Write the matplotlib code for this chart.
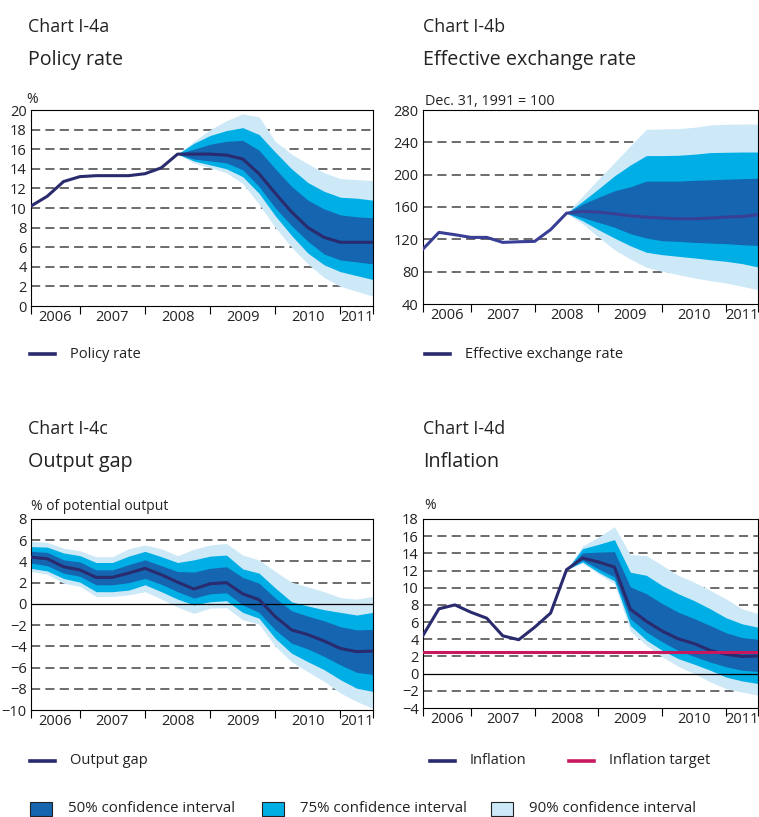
import numpy as np
import matplotlib
matplotlib.use("Agg")
import matplotlib.pyplot as plt
from matplotlib.lines import Line2D
from matplotlib.patches import Rectangle

plt.rcParams['font.family'] = ['Open Sans', 'DejaVu Sans']

W, H = 759, 817

# quarterly observations, 2006 Q2 to 2011 Q3 (x in fractional years)
quarters = 2006.25 + 0.25 * np.arange(22)
year_ticks = [2006.25, 2007, 2008, 2009, 2010, 2011, 2011.5]
year_labels = ['2006', '2007', '2008', '2009', '2010', '2011']
year_label_pos = [2006.625, 2007.5, 2008.5, 2009.5, 2010.5, 2011.25]

# --- Chart I-4a: policy rate (fan from index 9) ---
policy_rate = [10.2, 11.2, 12.7, 13.2, 13.3, 13.3, 13.3, 13.5, 14.1, 15.5, 15.5,
               15.5, 15.4, 15.0, 13.5, 11.5, 9.6, 8.0, 7.0, 6.5, 6.5, 6.5]
policy_90_hi = [15.5, 16.8, 18.0, 18.9, 19.6, 19.3, 16.8, 15.5, 14.5, 13.6, 13.0, 12.9, 12.8]
policy_75_hi = [15.5, 16.6, 17.4, 17.9, 18.2, 17.5, 15.7, 14.0, 12.6, 11.7, 11.1, 11.0, 10.8]
policy_50_hi = [15.5, 16.0, 16.5, 16.8, 16.9, 15.9, 14.0, 12.2, 10.8, 9.9, 9.3, 9.1, 9.0]
policy_50_lo = [15.5, 15.0, 14.8, 14.6, 13.9, 12.2, 10.0, 8.2, 6.6, 5.3, 4.7, 4.5, 4.3]
policy_75_lo = [15.5, 14.8, 14.4, 14.0, 13.2, 11.5, 9.2, 7.2, 5.4, 4.2, 3.5, 3.1, 2.7]
policy_90_lo = [15.5, 14.6, 14.1, 13.6, 12.5, 10.4, 8.0, 6.0, 4.3, 2.9, 2.0, 1.5, 1.0]

# --- Chart I-4b: effective exchange rate (fan from index 9) ---
exchange_rate = [108, 128.6, 125.7, 122.4, 122.4, 116.2, 117, 117.5, 132, 152.4, 154.5,
                 153.7, 151.6, 149, 147.5, 146.3, 145.4, 145.4, 146.3, 147.5, 148.3, 150.4]
exch_90_hi = [152.4, 173.4, 194.4, 215, 235.6, 256, 256.5, 257, 258.6, 261.5, 262.3, 262.7, 262.7]
exch_75_hi = [152.4, 167, 182.5, 198.5, 212, 223.6, 223.6, 224, 225.3, 227.3, 227.7, 228, 228]
exch_50_hi = [152.4, 163.5, 172, 180, 185, 192, 192, 192, 193, 193.6, 194.4, 195, 195.6]
exch_50_lo = [152.4, 147, 141, 135, 127, 121.6, 118.3, 117.5, 116.2, 115.4, 114.6, 113.3, 112.5]
exch_75_lo = [152.4, 143, 131.9, 121.6, 112, 104, 101, 99, 97, 94.8, 92.8, 90, 85.8]
exch_90_lo = [152.4, 139.3, 122.8, 107.2, 95.6, 85.4, 80.4, 76.3, 72.2, 68.9, 66, 61.9, 57.8]

# --- Chart I-4c: output gap (fan over whole period) ---
output_gap = [4.4, 4.25, 3.5, 3.2, 2.5, 2.5, 2.9, 3.35, 2.75, 2.05, 1.4,
              1.9, 2.0, 0.95, 0.4, -1.2, -2.45, -2.9, -3.5, -4.2, -4.5, -4.45]
gap_90_hi = [5.9, 5.8, 5.25, 5.0, 4.45, 4.45, 5.2, 5.55, 5.2, 4.55, 5.15,
             5.55, 5.7, 4.6, 4.15, 3.05, 2.05, 1.6, 1.15, 0.6, 0.45, 0.7]
gap_75_hi = [5.4, 5.35, 4.8, 4.55, 3.9, 3.9, 4.5, 4.95, 4.45, 3.9, 4.15,
             4.5, 4.6, 3.3, 2.9, 1.5, 0.2, -0.2, -0.55, -0.8, -1.05, -0.8]
gap_50_hi = [4.95, 4.85, 4.15, 3.95, 3.2, 3.2, 3.7, 4.15, 3.6, 3.05, 3.0,
             3.35, 3.5, 2.5, 1.95, 0.55, -0.65, -1.15, -1.6, -2.15, -2.45, -2.4]
gap_50_lo = [3.85, 3.6, 2.9, 2.6, 1.8, 1.8, 2.0, 2.4, 1.85, 1.15, 0.55,
             0.95, 1.05, -0.1, -0.8, -2.45, -3.7, -4.25, -4.95, -5.75, -6.45, -6.65]
gap_75_lo = [3.35, 3.1, 2.4, 2.05, 1.15, 1.15, 1.3, 1.8, 1.15, 0.45, -0.1,
             0.2, 0.3, -0.8, -1.35, -3.25, -4.65, -5.45, -6.2, -7.15, -7.95, -8.25]
gap_90_lo = [3.05, 2.8, 1.95, 1.65, 0.7, 0.7, 0.85, 1.15, 0.45, -0.3, -0.9,
             -0.4, -0.35, -1.5, -1.9, -4.0, -5.45, -6.4, -7.3, -8.4, -9.2, -9.85]

# --- Chart I-4d: inflation (fan from index 9) ---
inflation = [4.45, 7.55, 8.0, 7.15, 6.45, 4.4, 3.95, 5.4, 7.05, 12.1, 13.45,
             13.0, 12.4, 7.5, 6.1, 4.95, 4.05, 3.5, 2.7, 2.25, 2.0, 2.05]
inflation_target = 2.5
infl_90_hi = [12.1, 14.85, 15.9, 17.1, 13.85, 13.75, 12.6, 11.45, 10.65, 9.7, 8.7, 7.55, 7.0]
infl_75_hi = [12.1, 14.55, 15.05, 15.6, 11.8, 11.45, 10.25, 9.3, 8.5, 7.55, 6.5, 5.8, 5.4]
infl_50_hi = [12.1, 14.05, 14.15, 14.2, 10.1, 9.3, 8.15, 7.15, 6.4, 5.6, 4.75, 4.2, 4.0]
infl_50_lo = [12.1, 13.2, 12.2, 11.25, 6.4, 4.85, 3.7, 2.7, 2.0, 1.35, 0.8, 0.4, 0.25]
infl_75_lo = [12.1, 13.0, 11.8, 10.8, 5.6, 3.9, 2.7, 1.75, 1.1, 0.4, -0.4, -0.85, -1.15]
infl_90_lo = [12.1, 12.85, 11.6, 10.45, 4.95, 3.3, 1.95, 0.85, 0.0, -0.95, -1.75, -2.15, -2.5]

C50, C75, C90 = '#1565b0', '#00aee6', '#cde9f8'
NAVY = '#2a2a6e'
TARGET = '#c8195e'
GRID = '#444444'
TEXT = '#222222'


def fx(px):
    return px / W


def fy(py):
    return 1 - py / H


def add_axes(left, top, right, bottom):
    return fig.add_axes([fx(left), fy(bottom), (right - left) / W, (bottom - top) / H])


def draw_panel(ax, line, fans, fan_start, ylim, ystep, dashed, zero_line=False,
               line_color=NAVY):
    xf = quarters[fan_start:]
    for y in dashed:
        ax.axhline(y, color=GRID, lw=1.1, dashes=(6.0, 3.4), zorder=0.5)
    for lo, hi, col in fans:
        ax.fill_between(xf, lo, hi, color=col, lw=0, zorder=1)
    if zero_line:
        ax.axhline(0, color='black', lw=0.9, zorder=2)
    ax.plot(quarters, line, color=line_color, lw=2.2, zorder=3)
    ax.set_xlim(quarters[0], quarters[-1])
    ax.set_ylim(*ylim)
    ax.set_yticks(np.arange(ylim[0], ylim[1] + ystep / 2, ystep))
    ax.tick_params(axis='y', length=0, pad=3, labelsize=10.5, labelcolor=TEXT)
    ax.set_xticks(year_ticks)
    ax.set_xticklabels([])
    ax.set_xticks(year_label_pos, minor=True)
    ax.set_xticklabels(year_labels, minor=True)
    ax.tick_params(axis='x', which='major', direction='out', length=6, width=0.8)
    ax.tick_params(axis='x', which='minor', length=0, pad=3, labelsize=10.5,
                   labelcolor=TEXT)
    for s in ax.spines.values():
        s.set_linewidth(0.8)


def legend_line(x0, y, text, color):
    fig.add_artist(Line2D([fx(x0), fx(x0 + 25)], [fy(y), fy(y)], color=color, lw=2.6))
    fig.text(fx(x0 + 40), fy(y), text, fontsize=10.5, va='center', color=TEXT)


fig = plt.figure(figsize=(W / 100, H / 100), dpi=100)

# titles
for x0, y0, label, title in [(28, 32, 'Chart I-4a', 'Policy rate'),
                             (423, 32, 'Chart I-4b', 'Effective exchange rate'),
                             (28, 434, 'Chart I-4c', 'Output gap'),
                             (423, 434, 'Chart I-4d', 'Inflation')]:
    fig.text(fx(x0), fy(y0), label, fontsize=12.8, color=TEXT, va='baseline')
    fig.text(fx(x0), fy(y0 + 33), title, fontsize=14.2, color=TEXT, va='baseline')

# a
ax_a = add_axes(31, 110, 373, 306)
draw_panel(ax_a, policy_rate,
           [(policy_90_lo, policy_90_hi, C90), (policy_75_lo, policy_75_hi, C75),
            (policy_50_lo, policy_50_hi, C50)],
           9, (0, 20), 2, range(2, 19, 2))
fig.text(fx(26), fy(103), '%', fontsize=10, color=TEXT, va='baseline')

# b
ax_b = add_axes(423, 110, 758, 304)
draw_panel(ax_b, exchange_rate,
           [(exch_90_lo, exch_90_hi, C90), (exch_75_lo, exch_75_hi, C75),
            (exch_50_lo, exch_50_hi, C50)],
           9, (40, 280), 40, range(80, 241, 40), line_color='#3a3f96')
fig.text(fx(425), fy(105), 'Dec. 31, 1991 = 100', fontsize=10.4, color=TEXT,
         va='baseline')

# c
ax_c = add_axes(31, 519, 373, 710)
draw_panel(ax_c, output_gap,
           [(gap_90_lo, gap_90_hi, C90), (gap_75_lo, gap_75_hi, C75),
            (gap_50_lo, gap_50_hi, C50)],
           0, (-10, 8), 2, [6, 4, 2, -2, -4, -6, -8], zero_line=True)
fig.text(fx(31), fy(510), '% of potential output', fontsize=10, color=TEXT,
         va='baseline')

# d
ax_d = add_axes(423, 519, 758, 708)
draw_panel(ax_d, inflation,
           [(infl_90_lo, infl_90_hi, C90), (infl_75_lo, infl_75_hi, C75),
            (infl_50_lo, infl_50_hi, C50)],
           9, (-4, 18), 2, [16, 14, 12, 10, 8, 6, 4, 2, -2], zero_line=True)
ax_d.axhline(inflation_target, color=TARGET, lw=2.2, zorder=4)
fig.text(fx(424), fy(509), '%', fontsize=10, color=TEXT, va='baseline')

# line legends
legend_line(30, 354, 'Policy rate', NAVY)
legend_line(425, 354, 'Effective exchange rate', NAVY)
legend_line(30, 761, 'Output gap', NAVY)
legend_line(430, 761, 'Inflation', NAVY)
legend_line(569, 761, 'Inflation target', TARGET)

# confidence interval legend
for x0, col, text in [(30, C50, '50% confidence interval'),
                      (262, C75, '75% confidence interval'),
                      (491, C90, '90% confidence interval')]:
    fig.add_artist(Rectangle((fx(x0), fy(816)), 22 / W, 14 / H, facecolor=col,
                             edgecolor=TEXT, lw=0.8, transform=fig.transFigure))
    fig.text(fx(x0 + 38), fy(809), text, fontsize=10.8, va='center', color=TEXT)

fig.savefig('out.png', dpi=100)
